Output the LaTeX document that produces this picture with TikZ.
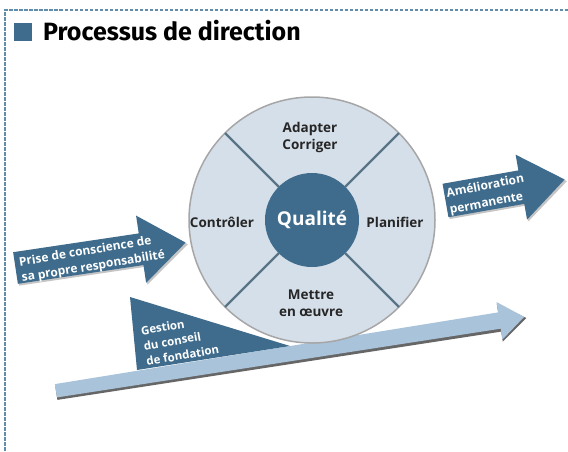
\documentclass[tikz,border=0pt]{standalone}
\usepackage{fontspec}
\setmainfont{Open Sans}
\newfontfamily\titrefont{Fira Sans}
\usepackage{xcolor}
\usepackage{tikz}

\definecolor{bleu}{HTML}{3F6C8C}
\definecolor{bleuclair}{HTML}{A9C4DA}
\definecolor{disque}{HTML}{D5DFE9}
\definecolor{cadre}{HTML}{5F8DAB}

\begin{document}
\begin{tikzpicture}[x=1pt,y=-1pt,
		etiquette/.style={font=\bfseries\fontsize{13.5}{17}\selectfont, text=black!85, align=center, inner sep=0},
		fleche/.style={font=\bfseries\fontsize{12}{15}\selectfont, text=white, align=left, inner sep=0},
		ombre/.style={fill=black!45, opacity=0.5}]
		\useasboundingbox (0,0) rectangle (568,451);
		
		% cadre pointille et titre
		\draw[cadre, line width=1.2pt, dash pattern=on 3.5pt off 1.5pt] (568,10) -- (5,10) -- (5,451);
		\fill[bleu] (14,23) rectangle (32,41);
		\node[anchor=base west, inner sep=0, font=\titrefont\bfseries\fontsize{25}{28}\selectfont] (titre) at (43,40) {Processus de direction};
		
		% grande fleche du bas
		\begin{scope}[shift={(56,391)}, rotate=9]
		\fill[black!60] (0,-4) -- (449,-6) -- (449,-17) -- (476,1.5) -- (449,21) -- (449,11) -- (0,9) -- cycle;
		\fill[bleuclair] (0,-7) -- (449,-8.5) -- (449,-19) -- (474,0) -- (449,19) -- (449,8) -- (0,6.5) -- cycle;
		\end{scope}
		
		% triangle
		\fill[bleu] (130,297) -- (137,370) -- (290,346) -- cycle;
		\node[fleche, rotate=10, font=\bfseries\fontsize{11.5}{14.5}\selectfont] (gestion) at (180,340) {Gestion\\[1pt]du conseil\\[1pt]de fondation};
		
		% la roue
		\coordinate (centre) at (312,220);
		\draw[fill=disque, draw=black!35, line width=1.5] (centre) circle [radius=123];
		\foreach \a in {45,135,225,315}
			\draw[line width=2.2, color=bleu!75!black!80] ([shift={(\a:47)}]centre) -- ([shift={(\a:123)}]centre);
		\node[circle, fill=bleu, minimum size=94, inner sep=0, text=white, font=\bfseries\fontsize{19}{21}\selectfont] (qualite) at (centre) {Qualité};
		
		\node[etiquette] (adapter) at (310,137) {Adapter\\Corriger};
		\node[etiquette] (controler) at (222,222) {Contrôler};
		\node[etiquette] (planifier) at (395,222) {Planifier};
		\node[etiquette] (mettre) at (311,303) {Mettre\\en œuvre};
		
		% fleche de gauche
		\begin{scope}[shift={(15.5,268)}, rotate=8.5]
		\fill[ombre] (1,-14) -- (128,-14) -- (128,-31) -- (174,2) -- (128,36) -- (128,18) -- (1,18) -- cycle;
		\fill[bleu] (0,-16) -- (127,-16) -- (127,-34) -- (172,0) -- (127,34) -- (127,16) -- (0,16) -- cycle;
		\end{scope}
		\node[fleche, rotate=9.5] (prise) at (92,259) {Prise de conscience de\\[1pt]sa propre responsabilité};
		
		% fleche de droite
		\begin{scope}[shift={(445.5,200.5)}, rotate=10]
		\fill[ombre] (1,-15) -- (78,-15) -- (78,-31) -- (123,2) -- (78,35) -- (78,19) -- (1,19) -- cycle;
		\fill[bleu] (0,-17) -- (77,-17) -- (77,-33) -- (121,0) -- (77,33) -- (77,17) -- (0,17) -- cycle;
		\end{scope}
		\node[fleche, rotate=11] (amelioration) at (487,195) {Amélioration\\[2pt]permanente};
		\end{tikzpicture}
\end{document}
